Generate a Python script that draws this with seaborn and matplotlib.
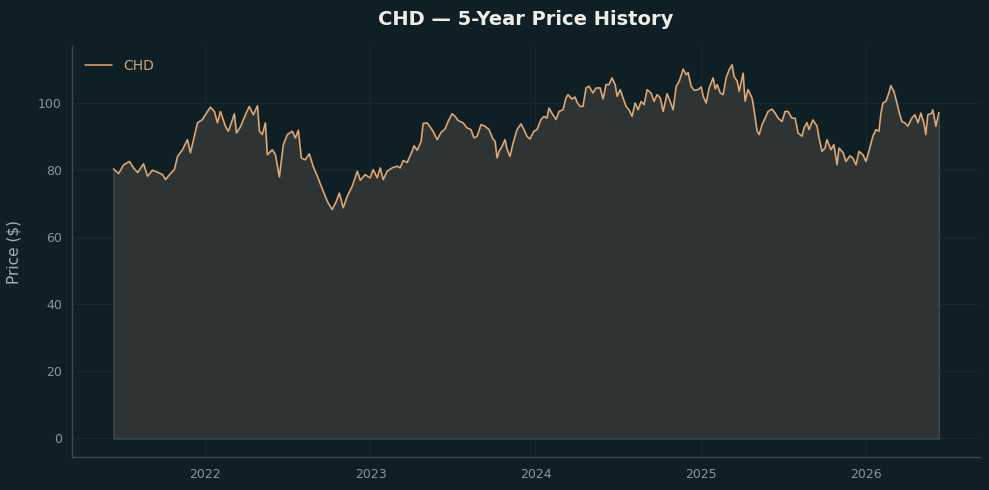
import matplotlib
matplotlib.use("Agg")
import matplotlib.pyplot as plt
import matplotlib.dates as mdates
import seaborn as sns
import numpy as np
import pandas as pd

# price samples (time as decimal year)
t_year = [
    2021.443, 2021.474, 2021.504, 2021.540, 2021.564, 2021.589, 2021.625, 2021.649, 2021.679, 2021.710,
    2021.740, 2021.758, 2021.788, 2021.812, 2021.831, 2021.861, 2021.891, 2021.909, 2021.933, 2021.952,
    2021.982, 2022.006, 2022.030, 2022.054, 2022.073, 2022.091, 2022.121, 2022.139, 2022.157, 2022.175,
    2022.188, 2022.212, 2022.242, 2022.266, 2022.290, 2022.315, 2022.327, 2022.345, 2022.363, 2022.375,
    2022.405, 2022.424, 2022.448, 2022.472, 2022.496, 2022.526, 2022.545, 2022.563, 2022.581, 2022.605,
    2022.629, 2022.653, 2022.678, 2022.702, 2022.726, 2022.744, 2022.768, 2022.793, 2022.811, 2022.835,
    2022.859, 2022.889, 2022.920, 2022.938, 2022.968, 2022.998, 2023.016, 2023.041, 2023.059, 2023.077,
    2023.101, 2023.131, 2023.162, 2023.180, 2023.198, 2023.222, 2023.252, 2023.264, 2023.283, 2023.307,
    2023.319, 2023.343, 2023.361, 2023.379, 2023.404, 2023.428, 2023.452, 2023.470, 2023.494, 2023.513,
    2023.531, 2023.561, 2023.585, 2023.609, 2023.627, 2023.646, 2023.670, 2023.694, 2023.718, 2023.742,
    2023.755, 2023.767, 2023.779, 2023.797, 2023.815, 2023.827, 2023.845, 2023.863, 2023.888, 2023.912,
    2023.930, 2023.948, 2023.966, 2023.990, 2024.009, 2024.033, 2024.051, 2024.069, 2024.081, 2024.105,
    2024.124, 2024.142, 2024.166, 2024.184, 2024.196, 2024.220, 2024.239, 2024.251, 2024.269, 2024.287,
    2024.305, 2024.323, 2024.347, 2024.366, 2024.390, 2024.408, 2024.426, 2024.444, 2024.462, 2024.481,
    2024.493, 2024.511, 2024.529, 2024.547, 2024.565, 2024.583, 2024.602, 2024.620, 2024.638, 2024.656,
    2024.674, 2024.698, 2024.716, 2024.735, 2024.753, 2024.771, 2024.795, 2024.813, 2024.831, 2024.850,
    2024.868, 2024.892, 2024.910, 2024.922, 2024.940, 2024.958, 2024.983, 2025.001, 2025.013, 2025.031,
    2025.049, 2025.073, 2025.086, 2025.098, 2025.116, 2025.134, 2025.152, 2025.170, 2025.188, 2025.200,
    2025.219, 2025.231, 2025.255, 2025.267, 2025.285, 2025.309, 2025.321, 2025.340, 2025.352, 2025.370,
    2025.388, 2025.406, 2025.430, 2025.449, 2025.467, 2025.491, 2025.509, 2025.527, 2025.551, 2025.570,
    2025.588, 2025.612, 2025.624, 2025.642, 2025.654, 2025.678, 2025.703, 2025.715, 2025.733, 2025.751,
    2025.763, 2025.787, 2025.805, 2025.824, 2025.836, 2025.860, 2025.878, 2025.902, 2025.920, 2025.939,
    2025.957, 2025.981, 2025.999, 2026.017, 2026.041, 2026.060, 2026.078, 2026.090, 2026.102, 2026.120,
    2026.138, 2026.150, 2026.168, 2026.187, 2026.199, 2026.217, 2026.235, 2026.253, 2026.277, 2026.296,
    2026.314, 2026.332, 2026.350, 2026.362, 2026.374, 2026.398, 2026.404, 2026.423, 2026.441,
]
price = [
    80.3, 78.9, 81.5, 82.5, 80.6, 79.2, 81.8, 78.1, 79.9, 79.3,
    78.6, 77.1, 78.9, 80.1, 84.0, 86.0, 89.0, 85.1, 90.0, 94.0,
    95.0, 96.9, 98.7, 97.4, 94.0, 97.4, 93.0, 91.5, 94.0, 96.7,
    91.0, 92.8, 96.4, 98.9, 96.4, 99.1, 91.5, 90.5, 94.0, 84.5,
    86.0, 84.5, 77.9, 87.5, 90.5, 91.5, 89.5, 91.8, 83.5, 83.0,
    84.8, 81.0, 78.1, 75.1, 72.1, 70.1, 68.2, 70.6, 73.1, 68.7,
    72.1, 75.1, 79.6, 76.9, 78.6, 77.6, 80.1, 77.6, 80.6, 77.1,
    79.6, 80.6, 81.1, 80.6, 82.8, 82.2, 85.5, 87.2, 85.8, 88.5,
    93.8, 94.0, 92.8, 91.5, 89.0, 91.2, 92.2, 94.4, 96.7, 95.9,
    94.7, 94.0, 92.5, 92.0, 89.5, 90.0, 93.5, 93.0, 92.0, 89.2,
    88.5, 83.5, 85.5, 87.0, 89.0, 86.2, 84.0, 87.8, 92.0, 93.7,
    92.0, 90.0, 89.2, 91.5, 92.0, 95.0, 95.9, 95.4, 98.4, 96.4,
    95.0, 97.4, 97.9, 101.4, 102.4, 101.1, 101.7, 100.1, 98.9, 98.9,
    104.4, 104.9, 102.9, 104.4, 104.4, 101.1, 105.4, 105.4, 107.4, 105.4,
    101.9, 103.9, 101.4, 98.9, 97.9, 95.9, 99.9, 97.9, 100.4, 99.4,
    103.9, 102.9, 100.4, 102.4, 101.5, 97.4, 102.7, 100.4, 97.9, 104.9,
    106.4, 110.0, 108.3, 109.0, 104.9, 103.7, 103.9, 104.7, 101.9, 99.9,
    104.4, 107.4, 104.1, 105.4, 102.9, 102.4, 107.4, 109.8, 111.3, 107.8,
    106.4, 103.4, 108.8, 100.4, 103.9, 101.4, 97.9, 91.5, 90.5, 93.5,
    95.4, 97.4, 98.1, 96.9, 95.4, 94.4, 97.4, 97.4, 95.4, 95.4,
    91.0, 90.0, 92.5, 94.1, 92.0, 94.9, 93.0, 89.5, 85.5, 86.5,
    89.0, 86.0, 87.5, 81.5, 86.5, 85.2, 82.5, 84.2, 83.5, 81.5,
    85.5, 84.5, 82.5, 85.5, 90.0, 92.0, 91.5, 96.9, 99.9, 100.4,
    102.9, 105.1, 103.4, 99.9, 97.4, 94.4, 94.0, 93.0, 95.4, 96.4,
    94.0, 96.9, 94.0, 90.5, 96.4, 96.9, 97.9, 93.0, 97.1,
]
ticker = "CHD"


def to_date(t):
    yr = int(t)
    start = pd.Timestamp(yr, 1, 1)
    days = (pd.Timestamp(yr + 1, 1, 1) - start).days
    return start + pd.Timedelta(days=(t - yr) * days)


df = pd.DataFrame({"date": [to_date(t) for t in t_year], "price": price})

bg = "#0f1f26"
line_col = "#e3a972"
tick_col = "#8a9499"

sns.set_style("dark")
plt.rcParams["font.family"] = ["DejaVu Sans"]

fig, ax = plt.subplots(figsize=(9.89, 4.9), dpi=100)
fig.patch.set_facecolor(bg)
ax.set_facecolor(bg)
fig.subplots_adjust(left=0.073, right=0.991, top=0.906, bottom=0.067)

ax.fill_between(df["date"], df["price"], 0, facecolor="#2e3433",
                edgecolor="#45484a", linewidth=1.0, zorder=1)
sns.lineplot(data=df, x="date", y="price", ax=ax, color=line_col,
             linewidth=1.1, label=ticker, zorder=3)

ax.xaxis.set_major_locator(mdates.YearLocator())
ax.xaxis.set_major_formatter(mdates.DateFormatter("%Y"))

ax.grid(True, color="#172930", linewidth=0.8)
ax.set_axisbelow(True)
for s in ["top", "right"]:
    ax.spines[s].set_visible(False)
for s in ["left", "bottom"]:
    ax.spines[s].set_visible(True)
    ax.spines[s].set_color("#3e4a4f")
    ax.spines[s].set_linewidth(1.0)

ax.tick_params(colors=tick_col, labelsize=9, length=4, color="#3e4a4f")
ax.set_xlabel("")
ax.set_ylabel("Price ($)", color="#a8b0b4", fontsize=11, labelpad=12)
ax.set_title("CHD — 5-Year Price History", color="#f0ede6", fontsize=14,
             fontweight="bold", pad=15)

leg = ax.legend(loc="upper left", frameon=False, fontsize=10)
for txt in leg.get_texts():
    txt.set_color("#d0a57c")

fig.savefig("out.png", dpi=100, facecolor=bg)
